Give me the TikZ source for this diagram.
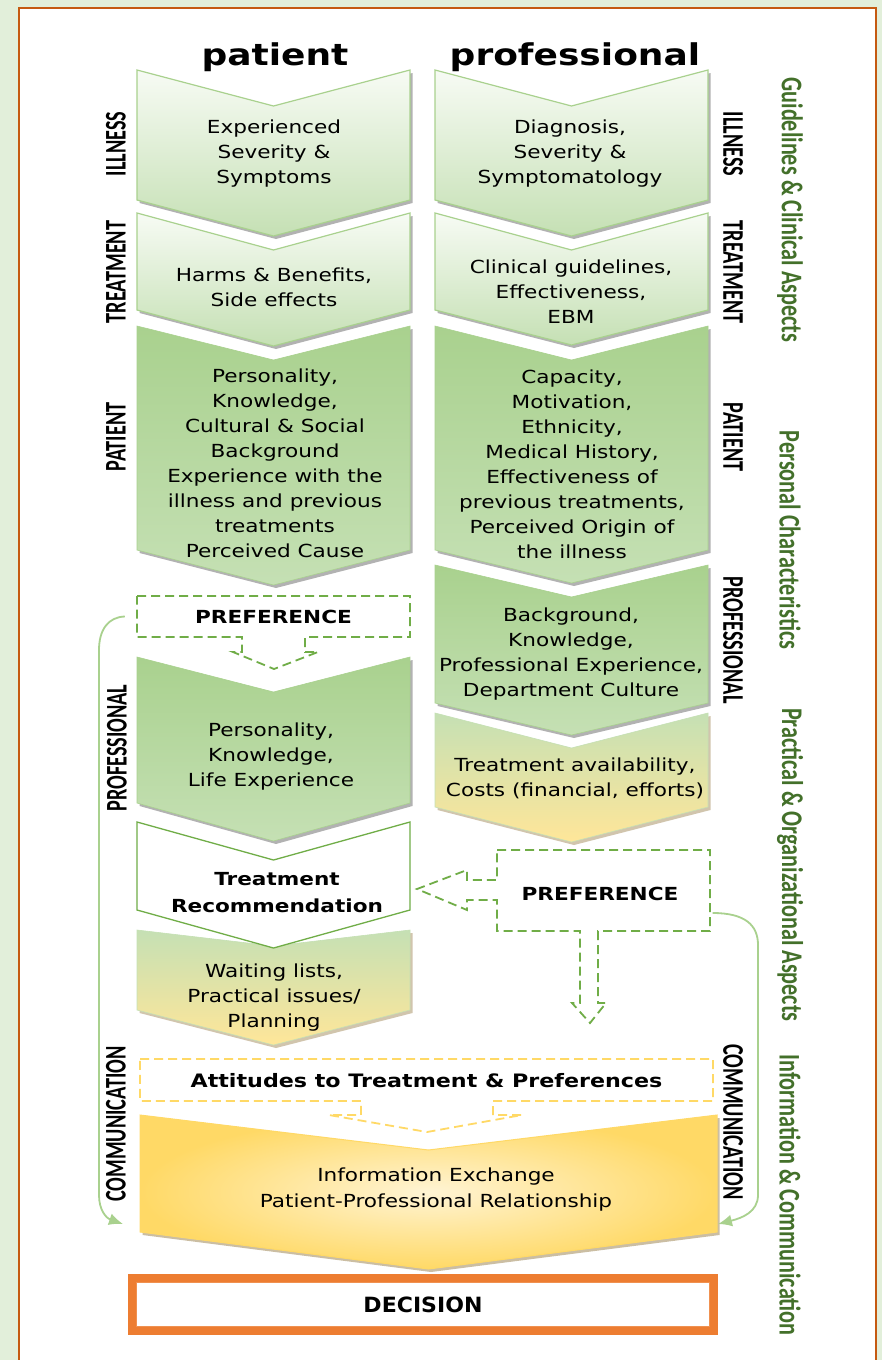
\documentclass[tikz,border=0pt]{standalone}
\usepackage{fontspec}
\usetikzlibrary{arrows.meta, shadows}

\newfontfamily\bodyfont[FakeStretch=1.2]{DejaVu Sans}
\newfontfamily\decfont[FakeStretch=1.05]{DejaVu Sans}
\newfontfamily\labfont[FakeStretch=0.675]{Carlito}
\newfontfamily\grpfont[FakeStretch=0.74]{Carlito}

\definecolor{pageGreen}{HTML}{E2EFDA}
\definecolor{frameBrown}{HTML}{C55A11}
\definecolor{greenPale}{HTML}{F7FBF4}
\definecolor{greenLight}{HTML}{C5E0B4}
\definecolor{greenMid}{HTML}{A9D18E}
\definecolor{greenDark}{HTML}{70AD47}
\definecolor{greenText}{HTML}{43702A}
\definecolor{yellowLight}{HTML}{FFE699}
\definecolor{yellowDeep}{HTML}{FFD966}
\definecolor{yellowPale}{HTML}{FFF4D4}
\definecolor{brownShade}{HTML}{8C7034}
\definecolor{orangeMain}{HTML}{ED7D31}

% chevron: [style] x-left, x-right, y-top, y-notch, y-bottom, y-point
\newcommand{\chevron}[7][]{\path[#1] (#2,#4) -- ({(#2+#3)/2},#5) -- (#3,#4) -- (#3,#6) -- ({(#2+#3)/2},#7) -- (#2,#6) -- cycle;}

\begin{document}
\begin{tikzpicture}[x=1pt, y=-1pt,
    chevtext/.style={align=center, text=black, font=\bodyfont\fontsize{18}{25}\selectfont},
    boldtext/.style={align=center, font=\bodyfont\bfseries\fontsize{18}{27}\selectfont},
    headtext/.style={font=\bodyfont\bfseries\fontsize{30}{30}\selectfont},
    sidelab/.style={font=\labfont\bfseries\fontsize{30}{30}\selectfont},
    grplab/.style={text=greenText, rotate=-90, font=\grpfont\bfseries\fontsize{30}{30}\selectfont},
    lightchev/.style={draw=greenMid, line width=1.2pt, top color=greenPale, bottom color=greenLight,
        drop shadow={shadow xshift=2.5pt, shadow yshift=-3pt, opacity=0.3, fill=black}},
    darkchev/.style={draw=greenMid, line width=0.6pt, top color=greenMid, bottom color=greenLight,
        drop shadow={shadow xshift=2.5pt, shadow yshift=-3pt, opacity=0.3, fill=black}},
    mixchev/.style={draw=greenLight, line width=0.6pt, top color=greenLight, bottom color=yellowLight,
        drop shadow={shadow xshift=2.5pt, shadow yshift=-3pt, opacity=0.4, fill=brownShade}},
    whitechev/.style={draw=greenDark, line width=1.3pt, fill=white},
    infochev/.style={draw=yellowDeep, line width=1pt, inner color=yellowPale, outer color=yellowDeep,
        drop shadow={shadow xshift=2.5pt, shadow yshift=-3pt, opacity=0.45, fill=brownShade}},
    callout/.style={draw=greenDark, fill=white, dash pattern=on 9pt off 5pt, line width=1.8pt},
    attcallout/.style={callout, draw=yellowDeep},
    flow/.style={draw=greenMid, line width=1.8pt, -{Latex[length=14pt,width=12pt]}},
    decbox/.style={draw=orangeMain, line width=7.5pt, fill=white, minimum width=582pt, minimum height=53pt,
        font=\decfont\bfseries\fontsize{21}{21}\selectfont}
]
\useasboundingbox (0,0) rectangle (882,1360);
\fill[pageGreen] (0,0) rectangle (882,1360);
\filldraw[fill=white, draw=frameBrown, line width=2pt] (19,8) rectangle (876,1390);

% column heads
\node (patHead) [headtext, anchor=base] at (275,65) {patient};
\node (proHead) [headtext, anchor=base] at (575,65) {professional};

% patient column
\chevron[lightchev]{137}{410}{70}{106}{200}{236}
\chevron[lightchev]{137}{410}{213}{250}{310}{346}
\chevron[darkchev]{137}{410}{326}{360}{550}{585}
\chevron[darkchev]{137}{410}{657}{692}{803}{841}
\chevron[mixchev]{137}{410}{930}{946}{1010}{1045}
\chevron[whitechev]{137}{410}{822}{860}{910}{948}

% professional column
\chevron[lightchev]{435}{708}{70}{106}{200}{236}
\chevron[lightchev]{435}{708}{213}{250}{310}{345}
\chevron[darkchev]{435}{708}{326}{360}{550}{583}
\chevron[darkchev]{435}{708}{565}{597}{703}{735}
\chevron[mixchev]{435}{708}{713}{748}{807}{842}

% preference callouts
\path[callout] (137,596) -- (410,596) -- (410,637) -- (305,637) -- (305,652) -- (318,652) -- (274,669)
    -- (233,652) -- (242,652) -- (242,637) -- (137,637) -- cycle;
\path[callout] (497,850) -- (710,850) -- (710,931) -- (598,931) -- (598,1003) -- (606,1003) -- (590,1023)
    -- (572,1003) -- (580,1003) -- (580,931) -- (497,931) -- (497,900) -- (467,900) -- (467,910)
    -- (417,889) -- (467,870) -- (467,880) -- (497,880) -- cycle;

% shared part
\path[attcallout] (140,1059) -- (713,1059) -- (713,1101) -- (493,1101) -- (493,1115) -- (522,1115) -- (427,1132)
    -- (329,1115) -- (361,1115) -- (361,1101) -- (140,1101) -- cycle;
\chevron[infochev]{140}{717}{1115}{1150}{1232}{1269}

% texts
\node (illPat) [chevtext] at (274,154) {Experienced\\Severity \&\\Symptoms};
\node (illPro) [chevtext] at (570,154) {Diagnosis,\\Severity \&\\Symptomatology};
\node (trPat) [chevtext] at (274,287) {Harms \& Benefits,\\Side effects};
\node (trPro) [chevtext] at (571,292) {Clinical guidelines,\\Effectiveness,\\EBM};
\node (ptPat) [chevtext] at (275,463) {Personality,\\Knowledge,\\Cultural \& Social\\Background\\Experience with the\\illness and previous\\treatments\\Perceived Cause};
\node (ptPro) [chevtext] at (572,464) {Capacity,\\Motivation,\\Ethnicity,\\Medical History,\\Effectiveness of\\previous treatments,\\Perceived Origin of\\the illness};
\node (pfPro) [chevtext] at (571,654) {Background,\\Knowledge,\\Professional Experience,\\Department Culture};
\node (costs) [chevtext] at (575,778) {Treatment availability,\\Costs (financial, efforts)};
\node (pfPat) [chevtext] at (271,757) {Personality,\\Knowledge,\\Life Experience};
\node (recom) [boldtext] at (277,893) {Treatment\\Recommendation};
\node (wait) [chevtext] at (274,998) {Waiting lists,\\Practical issues/\\Planning};
\node (prefL) [boldtext, minimum width=273pt, minimum height=41pt] at (273.5,616.5) {PREFERENCE};
\node (prefR) [boldtext, minimum width=213pt, minimum height=81pt] at (600,894) {PREFERENCE};
\node (att) [boldtext, font=\bodyfont\bfseries\fontsize{18.5}{22}\selectfont] at (426.5,1081) {Attitudes to Treatment \& Preferences};
\node (info) [chevtext, font=\bodyfont\fontsize{18}{26}\selectfont] at (436,1190) {Information Exchange\\Patient-Professional Relationship};
\node (decision) [decbox] at (423,1304.5) {DECISION};
\draw[orangeMain!85, line width=1.4pt] ([shift={(8.5,8.5)}]decision.north west) rectangle ([shift={(-8.5,-8.5)}]decision.south east);

% row labels
\node (illL) [sidelab, rotate=90] at (116,144) {ILLNESS};
\node (trL) [sidelab, rotate=90] at (116,272) {TREATMENT};
\node (ptL) [sidelab, rotate=90] at (116,437) {PATIENT};
\node (pfL) [sidelab, rotate=90] at (117,748) {PROFESSIONAL};
\node (comL) [sidelab, rotate=90] at (116,1124) {COMMUNICATION};
\node (illR) [sidelab, rotate=-90] at (733,144) {ILLNESS};
\node (trR) [sidelab, rotate=-90] at (733,272) {TREATMENT};
\node (ptR) [sidelab, rotate=-90] at (733,437) {PATIENT};
\node (pfR) [sidelab, rotate=-90] at (733,640) {PROFESSIONAL};
\node (comR) [sidelab, rotate=-90] at (733,1122) {COMMUNICATION};

% group labels
\node (grpGuide) [grplab] at (790,210) {Guidelines \& Clinical Aspects};
\node (grpPers) [grplab] at (790,540) {Personal Characteristics};
\node (grpPract) [grplab] at (790,865) {Practical \& Organizational Aspects};
\node (grpInfo) [grplab] at (790,1195) {Information \& Communication};

% preference flows into communication
\coordinate (infoL) at (123,1224);
\coordinate (infoR) at (718,1224);
\draw[flow] ([xshift=-12pt]prefL.west) .. controls (108,617) and (99,630) .. (99,650) -- (99,1195)
    .. controls (99,1210) and (106,1218) .. (infoL);
\draw[flow] ([xshift=6pt,yshift=-19pt]prefR.east) .. controls (745,913) and (758,925) .. (758,945) -- (758,1195)
    .. controls (758,1212) and (742,1218) .. (infoR);
\end{tikzpicture}
\end{document}
